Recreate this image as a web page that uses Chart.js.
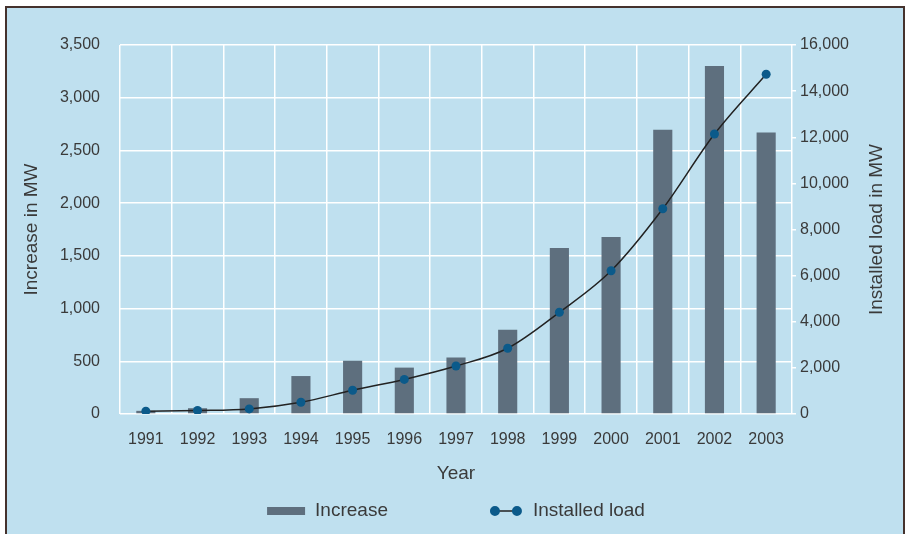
<!DOCTYPE html>
<html lang="en">
<head>
  <meta charset="utf-8">
  <title>Increase and installed load</title>
  <style>
    body { margin: 0; background: #ffffff; }
    #panel {
      position: absolute; left: 5px; top: 6px;
      width: 900px; height: 530px; box-sizing: border-box;
      background: #bfe0ef;
      border-top: 2px solid #45322d;
      border-left: 2px solid #45322d;
      border-right: 2px solid #45322d;
    }
    #chartCanvas { position: absolute; left: 0; top: 0; }
  </style>
</head>
<body>
<div id="panel"></div>
<canvas id="chartCanvas" width="906" height="534"></canvas>

<script src="https://cdn.jsdelivr.net/npm/chart.js"></script>
<script>

   // values
   var years = ['1991', '1992', '1993', '1994', '1995', '1996', '1997', '1998', '1999', '2000', '2001', '2002', '2003'];
   var increaseMW = [30, 55, 150, 360, 505, 440, 535, 800, 1575, 1680, 2695, 3300, 2670];
   var installedMW = [120, 150, 220, 510, 1030, 1500, 2080, 2850, 4410, 6210, 8900, 12140, 14730];

   var leftTicks = { min: 0, max: 3500, step: 500 };
   var rightTicks = { min: 0, max: 16000, step: 2000 };

   var textColor = '#3a3a3a';
   var barColor = '#5e6f7e';
   var dotColor = '#0b5a8a';
   var fontFamily = "'Liberation Sans', Arial, Helvetica, sans-serif";

   const chartCanvas = document.getElementById('chartCanvas');

   // legend + right axis title drawn by hand (dot-line-dot symbol, bottom-to-top text)
   const extrasPlugin = {
     id: 'extras',
     afterDraw(chart) {
       const ctx = chart.ctx;
       const area = chart.chartArea;
       const bars = chart.data.datasets[0];
       const line = chart.data.datasets[1];

       ctx.save();
       ctx.fillStyle = textColor;
       ctx.font = '19px ' + fontFamily;
       ctx.textBaseline = 'middle';

       // right axis title
       ctx.save();
       ctx.translate(877, (area.top + area.bottom) / 2);
       ctx.rotate(-Math.PI / 2);
       ctx.textAlign = 'center';
       ctx.fillText('Installed load in MW', 0, 0);
       ctx.restore();

       // legend
       var y = area.bottom + 97;
       var w1 = 38 + 10 + ctx.measureText(bars.label).width;
       var w2 = 32 + 11 + ctx.measureText(line.label).width;
       var gap = 102;
       var x = (area.left + area.right) / 2 - (w1 + gap + w2) / 2;

       ctx.fillStyle = barColor;
       ctx.fillRect(x, y - 4, 38, 8);
       ctx.fillStyle = textColor;
       ctx.textAlign = 'left';
       ctx.fillText(bars.label, x + 48, y);

       x += w1 + gap;
       ctx.strokeStyle = '#222222';
       ctx.lineWidth = 1.5;
       ctx.beginPath();
       ctx.moveTo(x + 5, y);
       ctx.lineTo(x + 27, y);
       ctx.stroke();
       ctx.fillStyle = dotColor;
       ctx.beginPath();
       ctx.arc(x + 5, y, 5, 0, Math.PI * 2);
       ctx.arc(x + 27, y, 5, 0, Math.PI * 2);
       ctx.fill();
       ctx.fillStyle = textColor;
       ctx.fillText(line.label, x + 43, y);

       ctx.restore();
     }
   };

   var TheChart = new Chart(chartCanvas, {
     type: 'bar',
     data: {
       labels: years,
       datasets: [
         {
           type: 'bar',
           label: 'Increase',
           data: increaseMW,
           yAxisID: 'y',
           backgroundColor: barColor,
           borderWidth: 0,
           barPercentage: 0.37,
           categoryPercentage: 1,
           order: 1,
         },
         {
           type: 'line',
           label: 'Installed load',
           data: installedMW,
           yAxisID: 'y1',
           borderColor: '#222222',
           borderWidth: 1.5,
           pointRadius: 4.5,
           pointBorderWidth: 0,
           pointBackgroundColor: dotColor,
           cubicInterpolationMode: 'monotone',
           order: 0,
         },
       ],
     },
     options: {
       responsive: false,
       animation: false,
       locale: 'en-US',
       layout: { padding: { top: 45, bottom: 50, left: 0, right: 0 } },
       plugins: {
         legend: { display: false },
         tooltip: { enabled: false },
       },
       scales: {
         x: {
           grid: { color: '#ffffff', lineWidth: 1.5, offset: true, drawTicks: false },
           border: { display: false },
           ticks: { color: textColor, font: { family: fontFamily, size: 16 }, padding: 16 },
           title: {
             display: true,
             text: 'Year',
             color: textColor,
             font: { family: fontFamily, size: 19 },
             padding: { top: 0, bottom: -1 },
           },
           afterFit: function(scale) { scale.height = 70; },
         },
         y: {
           position: 'left',
           min: leftTicks.min,
           max: leftTicks.max,
           grid: { color: '#ffffff', lineWidth: 1.5, drawTicks: false },
           border: { display: false },
           ticks: { stepSize: leftTicks.step, color: textColor, font: { family: fontFamily, size: 16 }, padding: 20 },
           title: {
             display: true,
             text: 'Increase in MW',
             color: textColor,
             font: { family: fontFamily, size: 19 },
             padding: { top: 20.6, bottom: 0 },
           },
           afterFit: function(scale) { scale.width = 120; },
         },
         y1: {
           position: 'right',
           min: rightTicks.min,
           max: rightTicks.max,
           grid: { color: '#ffffff', lineWidth: 1.5, drawOnChartArea: false, drawTicks: true, tickLength: 4 },
           border: { display: false },
           ticks: { stepSize: rightTicks.step, color: textColor, font: { family: fontFamily, size: 16 }, padding: 4 },
           afterFit: function(scale) { scale.width = 114; },
         },
       },
     },
     plugins: [extrasPlugin],
   });

</script>
</body>
</html>
